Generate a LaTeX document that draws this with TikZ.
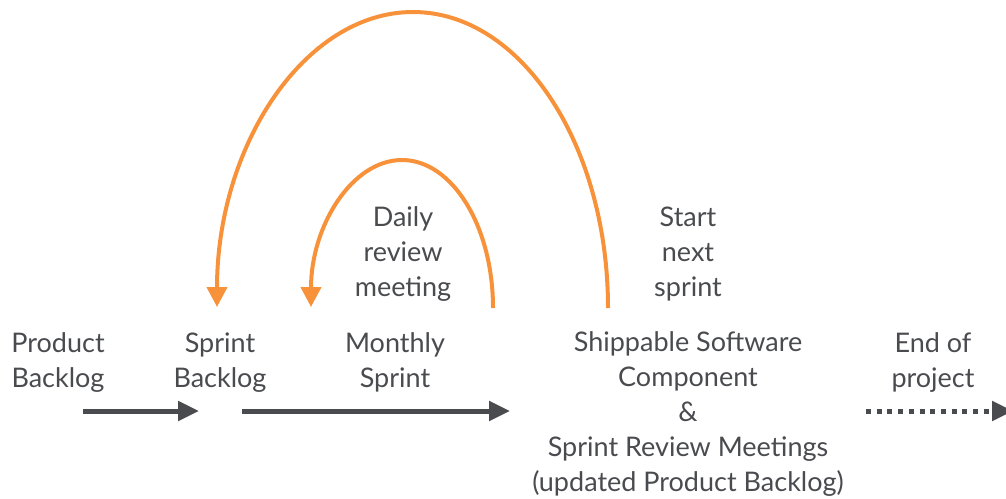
\documentclass[tikz,border=0pt]{standalone}
\usepackage{fontspec}
\setmainfont{Lato}
\usetikzlibrary{arrows.meta}
\definecolor{agileorange}{HTML}{F7923A}
\definecolor{agilegray}{HTML}{4A4B4F}
\begin{document}
\begin{tikzpicture}[x=1pt,y=-1pt,
  lbl/.style={align=center, text=agilegray, font=\fontsize{27}{35}\selectfont, inner sep=0pt, anchor=base},
  flow/.style={draw=agilegray, line width=5pt, -{Triangle[length=21pt,width=19pt]}},
  dotflow/.style={flow, dash pattern=on 5pt off 5.7pt},
  loopback/.style={draw=agileorange, line width=4pt, -{Triangle[length=20pt,width=20pt]}}]
\useasboundingbox (0,0) rectangle (1006,498);
\clip (0,0) rectangle (1006,498);

\node[lbl] (pb)  at (58,387)  {Product\\Backlog};
\node[lbl] (sb)  at (220,387) {Sprint\\Backlog};
\node[lbl] (ms)  at (395,387) {Monthly\\Sprint};
\node[lbl] (drm) at (403,296) {Daily\\review\\meeting};
\node[lbl] (sns) at (688,296) {Start\\next\\sprint};
\node[lbl] (ssc) at (688,491) {Shippable Software\\Component\\\&\\Sprint Review Meetings\\(updated Product Backlog)};
\node[lbl] (eop) at (933,387) {End of\\project};

\coordinate (pbout) at (83,411);
\coordinate (sbin)  at (199,411);
\coordinate (sbout) at (242,411);
\coordinate (sscin) at (510,411);
\coordinate (sscout) at (866,411);
\coordinate (eopin) at (1013,411);

\draw[flow] (pbout) -- (sbin);
\draw[flow] (sbout) -- (sscin);
\draw[dotflow] (sscout) -- (eopin);

\coordinate (bigstart) at (608,308);
\coordinate (bigtop)   at (413,12);
\coordinate (bigend)   at (217,307);
\coordinate (smallstart) at (493,308);
\coordinate (smalltop)   at (402,160);
\coordinate (smallend)   at (311,307);

\draw[loopback] (bigstart) .. controls (608,145) and (521,12) .. (bigtop)
  .. controls (305,12) and (217,145) .. (bigend);
\draw[loopback] (smallstart) .. controls (493,226) and (452,160) .. (smalltop)
  .. controls (352,160) and (311,226) .. (smallend);
\end{tikzpicture}
\end{document}
